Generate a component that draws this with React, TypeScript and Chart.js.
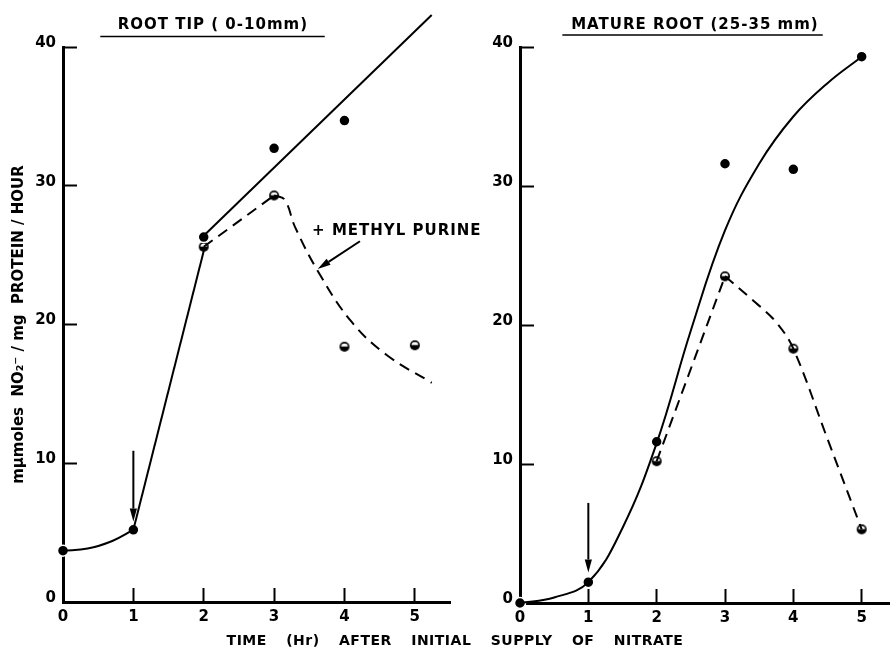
import React, { useEffect, useRef } from "react";
import { Chart, registerables } from "chart.js";

Chart.register(...registerables);

// ---------- axis ticks ----------
const xTicks = [0, 1, 2, 3, 4, 5];
const yTicks = [0, 10, 20, 30, 40];

// ---------- ROOT TIP (0-10mm) ----------
const tipTimes = [0, 1, 2, 3, 4, 5];
const tipControl = [3.7, 5.2, 26.3, 32.7, 34.7, 42.2];
const tipPurineTimes = [2, 3, 4, 5];
const tipPurine = [25.6, 29.3, 18.4, 18.5];
// drawn (fitted) curves
const tipCurveEarly = [[0, 3.7], [0.35, 3.85], [0.7, 4.4], [1, 5.2]];
const tipRise = [[1, 5.2], [2, 25.3]];
const tipFit = [[2, 26.4], [5.24, 42.3]];
const tipPurineRise = [[2, 25.6], [3, 29.3]];
const tipPurineFall = [[3, 29.3], [3.15, 29.0], [3.3, 27.0], [3.65, 23.6], [4.1, 20.2], [4.6, 17.8], [5.24, 15.8]];

// ---------- MATURE ROOT (25-35mm) ----------
const matTimes = [0, 1, 2, 3, 4, 5];
const matControl = [0, 1.5, 11.6, 31.6, 31.2, 39.3];
const matPurineTimes = [2, 3, 4, 5];
const matPurine = [10.2, 23.5, 18.3, 5.3];
const matCurve = [[0, 0], [0.5, 0.4], [1, 1.5], [1.5, 5.4], [2, 11.5], [2.5, 19.6], [3, 26.8], [3.5, 31.6], [4, 35.0], [4.5, 37.4], [5, 39.3]];
const matPurineRise = [[2, 10.2], [3, 23.5]];
const matPurineFall = [[3, 23.5], [3.45, 21.6], [3.75, 20.2], [4, 18.3], [4.5, 11.8], [5, 5.3]];

// ---------- texts ----------
const tipTitle = "ROOT TIP ( 0-10mm)";
const matTitle = "MATURE ROOT (25-35 mm)";
const yTitle = "mμmoles  NO₂⁻ / mg  PROTEIN / HOUR";
const xTitle = "TIME (Hr) AFTER INITIAL SUPPLY OF NITRATE";
const purineNote = "+ METHYL PURINE";

const FONT = "'DejaVu Sans', 'Liberation Sans', sans-serif";

const pts = (xs: number[], ys: number[]) => xs.map((x, i) => ({ x, y: ys[i] }));
const pairs = (a: number[][]) => a.map(([x, y]) => ({ x, y }));

function halfMarker(r: number) {
  const s = Math.ceil(r * 2 + 2);
  const c = document.createElement("canvas");
  c.width = s;
  c.height = s;
  const g = c.getContext("2d")!;
  const cx = s / 2, cy = s / 2;
  g.fillStyle = "#000";
  g.beginPath();
  g.arc(cx, cy, r, 0, Math.PI * 2);
  g.fill();
  g.fillStyle = "#fff";
  g.beginPath();
  g.ellipse(cx, cy - 0.2, r - 1.6, r - 1.9, 0, Math.PI, Math.PI * 2);
  g.fill();
  return c;
}

function drawArrow(ctx: CanvasRenderingContext2D, x1: number, y1: number, x2: number, y2: number) {
  const a = Math.atan2(y2 - y1, x2 - x1);
  const L = 13, W = 3.6;
  const bx = x2 - L * Math.cos(a), by = y2 - L * Math.sin(a);
  ctx.lineWidth = 2;
  ctx.beginPath();
  ctx.moveTo(x1, y1);
  ctx.lineTo(bx, by);
  ctx.stroke();
  ctx.beginPath();
  ctx.moveTo(x2, y2);
  ctx.lineTo(bx + W * Math.sin(a), by - W * Math.cos(a));
  ctx.lineTo(bx - W * Math.sin(a), by + W * Math.cos(a));
  ctx.closePath();
  ctx.fill();
}

const annotPlugin = {
  id: "annot",
  afterDraw(chart: any, _args: any, o: any) {
    const ctx: CanvasRenderingContext2D = chart.ctx;
    const xs = chart.scales.x, ys = chart.scales.y;
    const px = (v: number) => xs.getPixelForValue(v);
    const py = (v: number) => ys.getPixelForValue(v);
    ctx.save();
    ctx.fillStyle = "#000";
    ctx.strokeStyle = "#000";
    ctx.font = `bold 15px ${FONT}`;
    (ctx as any).letterSpacing = "1px";
    ctx.textAlign = "center";
    ctx.textBaseline = "alphabetic";
    ctx.fillText(o.title, px(o.titleX), o.titleBase);
    ctx.lineWidth = 1.6;
    ctx.beginPath();
    ctx.moveTo(px(o.ulFrom), o.ulY);
    ctx.lineTo(px(o.ulTo), o.ulY);
    ctx.stroke();
    (o.arrows || []).forEach((a: number[]) => drawArrow(ctx, px(a[0]), py(a[1]), px(a[2]), py(a[3])));
    (o.notes || []).forEach((n: any) => {
      ctx.textAlign = "left";
      ctx.textBaseline = "middle";
      ctx.fillText(n.text, px(n.x), py(n.y));
    });
    ctx.restore();
  },
};

const lineDs = (data: any[], extra: any = {}) => ({
  type: "line",
  data,
  showLine: true,
  borderColor: "#000",
  borderWidth: 2,
  pointRadius: 0,
  fill: false,
  clip: false,
  tension: 0,
  ...extra,
});

function makeConfig(p: any) {
  const hollow = halfMarker(5);
  const tickFont = { family: FONT, size: 15, weight: "bold" };
  return {
    type: "scatter",
    data: {
      datasets: [
        ...p.lines,
        {
          data: p.control,
          pointStyle: "circle",
          pointRadius: 5.5,
          pointBackgroundColor: "#000",
          pointBorderColor: "#fff",
          pointBorderWidth: 1.5,
          clip: false,
        },
        {
          data: p.purine,
          pointStyle: hollow,
          pointRadius: 5,
          clip: false,
        },
      ],
    },
    plugins: [annotPlugin],
    options: {
      responsive: false,
      animation: false,
      events: [],
      layout: { padding: { top: 47, right: p.padRight, left: 0, bottom: 0 } },
      plugins: {
        legend: { display: false },
        tooltip: { enabled: false },
        annot: p.annot,
      },
      scales: {
        x: {
          type: "linear",
          min: 0,
          max: p.xMax,
          afterBuildTicks: (s: any) => { s.ticks = xTicks.map((v) => ({ value: v })); },
          afterFit: (s: any) => { s.height = p.xAxisH; },
          border: { display: true, color: "#000", width: 3 },
          grid: { drawOnChartArea: false, drawTicks: true, tickLength: -14, tickWidth: 2, tickColor: "#000" },
          ticks: { padding: 20, color: "#000", font: tickFont, maxRotation: 0, autoSkip: false },
        },
        y: {
          type: "linear",
          min: 0,
          max: 40,
          afterBuildTicks: (s: any) => { s.ticks = yTicks.map((v) => ({ value: v })); },
          afterFit: (s: any) => { s.width = p.yAxisW; },
          border: { display: true, color: "#000", width: 3 },
          grid: { drawOnChartArea: false, drawTicks: true, tickLength: -14, tickWidth: 2, tickColor: "#000" },
          ticks: { padding: 21, labelOffset: -4, color: "#000", font: tickFont, autoSkip: false },
          title: p.yTitle
            ? { display: true, text: p.yTitle, color: "#000", font: { family: FONT, size: 15, weight: "bold" }, padding: { top: 10, bottom: 0 } }
            : { display: false },
        },
      },
    },
  };
}

export default function App() {
  const r1 = useRef<HTMLCanvasElement>(null);
  const r2 = useRef<HTMLCanvasElement>(null);

  useEffect(() => {
    const cfg1 = makeConfig({
      xMax: 5.5,
      padRight: 50,
      xAxisH: 45,
      yAxisW: 63,
      yTitle,
      control: pts(tipTimes, tipControl),
      purine: pts(tipPurineTimes, tipPurine),
      lines: [
        lineDs(pairs(tipCurveEarly), { tension: 0.4 }),
        lineDs(pairs(tipRise)),
        lineDs(pairs(tipFit)),
        lineDs(pairs(tipPurineRise), { borderDash: [11, 7] }),
        lineDs(pairs(tipPurineFall), { borderDash: [11, 7], tension: 0.4 }),
      ],
      annot: {
        title: tipTitle, titleX: 2.13, titleBase: 28.5, ulFrom: 0.53, ulTo: 3.72, ulY: 36.5,
        arrows: [[1, 10.9, 1, 5.8], [4.22, 26.0, 3.62, 24.0]],
        notes: [{ text: purineNote, x: 3.54, y: 26.7 }],
      },
    });
    const cfg2 = makeConfig({
      xMax: 5.4,
      padRight: 0,
      xAxisH: 44,
      yAxisW: 60,
      yTitle: null,
      control: pts(matTimes, matControl),
      purine: pts(matPurineTimes, matPurine),
      lines: [
        lineDs(pairs(matCurve), { tension: 0.4 }),
        lineDs(pairs(matPurineRise), { borderDash: [11, 7] }),
        lineDs(pairs(matPurineFall), { borderDash: [11, 7], tension: 0.35 }),
      ],
      annot: {
        title: matTitle, titleX: 2.56, titleBase: 29, ulFrom: 0.62, ulTo: 4.43, ulY: 35,
        arrows: [[1, 7.2, 1, 2.2]],
        notes: [],
      },
    });
    const c1 = new Chart(r1.current!, cfg1 as any);
    const c2 = new Chart(r2.current!, cfg2 as any);
    return () => { c1.destroy(); c2.destroy(); };
  }, []);

  return (
    <div style={{ position: "fixed", left: 0, top: 0, width: 896, height: 647, background: "#fff", overflow: "hidden" }}>
      <canvas ref={r1} width={500} height={647} style={{ position: "absolute", left: 0, top: 0 }} />
      <canvas ref={r2} width={436} height={647} style={{ position: "absolute", left: 460, top: 0 }} />
      <div
        style={{
          position: "absolute", left: 0, width: 910, top: 632, textAlign: "center",
          fontFamily: FONT, fontWeight: "bold", fontSize: 14, lineHeight: "16px",
          letterSpacing: 0.5, wordSpacing: 14, whiteSpace: "pre", color: "#000",
        }}
      >
        {xTitle}
      </div>
    </div>
  );
}
